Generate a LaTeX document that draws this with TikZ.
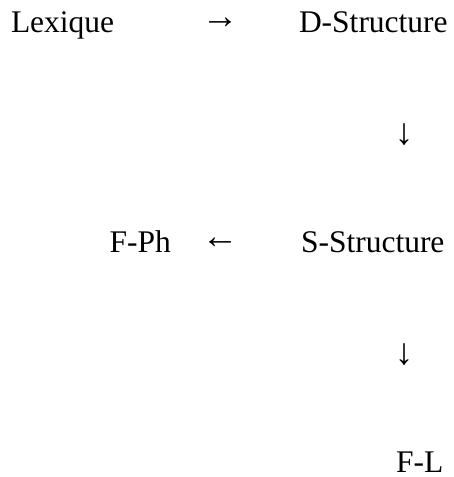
\documentclass[tikz,border=0pt]{standalone}
\usepackage{fontspec}
\setmainfont{Liberation Serif}
\begin{document}
\begin{tikzpicture}[x=1pt,y=1pt,
  lbl/.style={inner sep=0pt,outer sep=0pt,font=\fontsize{31.5}{36}\selectfont},
  arr/.style={inner sep=0pt,outer sep=0pt,anchor=center,font=\fontsize{37}{40}\selectfont}]
\useasboundingbox (0,0) rectangle (453,477);
\node[lbl,anchor=base west] (lex) at (11,444) {Lexique};
\node[arr] (a1) at (220,454) {→};
\node[lbl,anchor=base west] (dstr) at (299,444) {D-Structure};
\node[arr] (a2) at (404,342) {↓};
\node[lbl,anchor=base east] (fph) at (171,224) {F-Ph};
\node[arr] (a3) at (220,234) {←};
\node[lbl,anchor=base west] (sstr) at (301,224) {S-Structure};
\node[arr] (a4) at (404,122) {↓};
\node[lbl,anchor=base west] (fl) at (396,5) {F-L};
\end{tikzpicture}
\end{document}
